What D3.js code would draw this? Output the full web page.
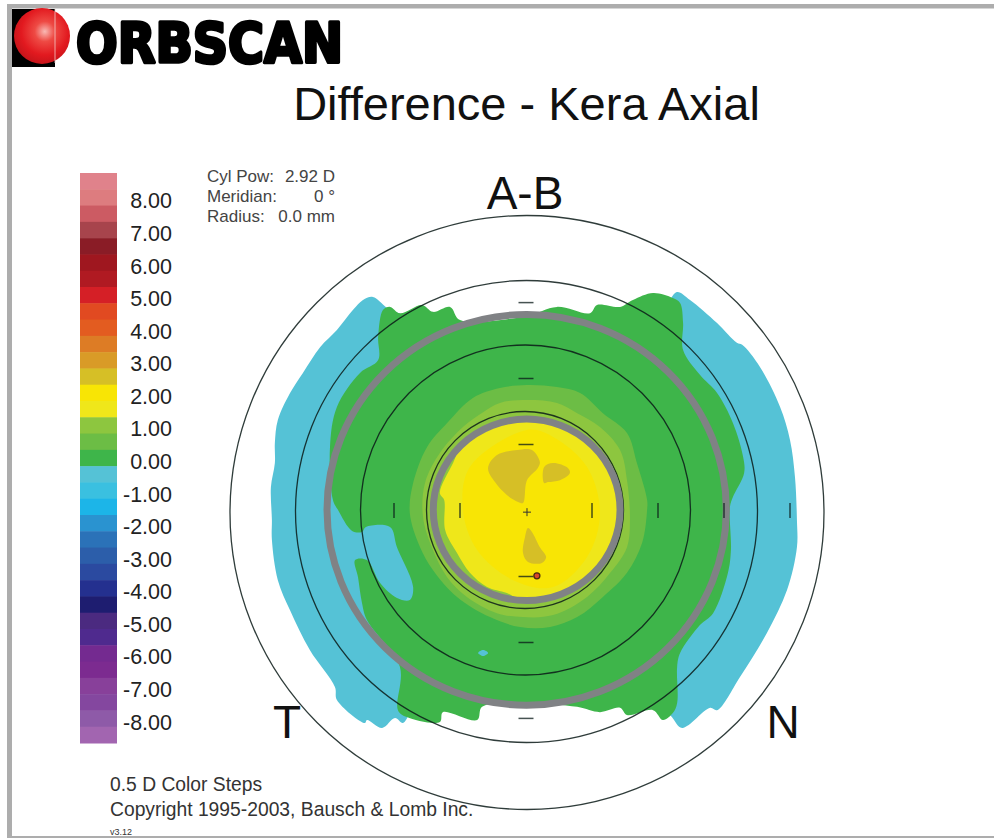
<!DOCTYPE html>
<html lang="en">
<head>
<meta charset="UTF-8">
<title>Orbscan - Difference - Kera Axial</title>
<script src="https://d3js.org/d3.v7.min.js"></script>
<style>
    html, body { margin: 0; padding: 0; background: #fff; }
    svg { display: block; }
    text { font-family: "Liberation Sans", Arial, sans-serif; }
    .info { font-size: 17px; fill: #444; }
    .dir { font-size: 46px; fill: #111; text-anchor: middle; }
    .foot { font-size: 19.3px; fill: #333; }
</style>
</head>
<body>
<svg width="994" height="838"></svg>
<script>
// legend: dioptre steps, top to bottom
const stepValues = [8.5, 8, 7.5, 7, 6.5, 6, 5.5, 5, 4.5, 4, 3.5, 3, 2.5, 2, 1.5, 1, 0.5, 0,
    -0.5, -1, -1.5, -2, -2.5, -3, -3.5, -4, -4.5, -5, -5.5, -6, -6.5, -7, -7.5, -8, -8.5];
const stepColors = ["#e0828b", "#dd7c7f", "#cc5b63", "#a7444c", "#8a1c26", "#9f171f", "#b01a22", "#d51f26", "#e14a21",
    "#e35c20", "#dd7c25", "#d99b27", "#d6bf26", "#f8e505", "#efe71a", "#8dc63f", "#6cbd45", "#3eb54a",
    "#55c2d6", "#3ac0e0", "#1cb5e8", "#2a93d0", "#2b72b8", "#2c5eaa", "#2b4aa0", "#24308f", "#1e1d70",
    "#4b2a80", "#4f2a8e", "#742a90", "#7c2b90", "#88409a", "#84479f", "#8e5aa8", "#a265b0"];
const legendTicks = [8, 7, 6, 5, 4, 3, 2, 1, 0, -1, -2, -3, -4, -5, -6, -7, -8];

// map contours, [x mm, y mm] from the map centre, y up
const blueLeft = [[-4.21, 6.14], [-4.64, 6.47], [-4.94, 6.38], [-5.24, 6.08], [-5.73, 5.47], [-6.24, 4.95], [-6.76, 4.17],
    [-7.15, 3.56], [-7.52, 2.74], [-7.61, 2.05], [-7.61, 1.44], [-7.73, 0.71], [-7.7, -0.29], [-7.7, -0.89], [-7.52, -2.11],
    [-7.15, -3.02], [-6.55, -4.23], [-5.79, -5.35], [-5.73, -5.74], [-4.88, -6.44], [-4.82, -6.35], [-4.36, -6.59],
    [-3.97, -6.29], [-3.73, -6.44], [-3.52, -6.14], [-3.2, -5.5], [-3.2, 5.5]];
const blueRight = [[4.58, 6.62], [4.97, 6.38], [5.79, 5.68], [6.39, 5.08], [6.55, 5.02], [7.09, 4.35], [7.7, 3.14], [8, 2.14],
    [8.15, 1.02], [8.21, -0.29], [8.21, -1.11], [7.91, -2.41], [7.3, -3.71], [6.48, -5.05], [5.79, -6.05], [5.58, -5.98],
    [4.73, -6.59], [4.42, -6.26], [3.9, -5.5], [3.9, 5.5], [4.36, 6.38]];
const blueDot = [[-1.45, -4.32], [-1.3, -4.23], [-1.15, -4.32], [-1.3, -4.41]];
const greenMain = [[-4.33, 6.08], [-4.12, 6.17], [-3.82, 5.98], [-3.15, 6.23], [-2.82, 6.02], [-2.3, 6.17], [-2, 5.77], [0, 5.89],
    [0.94, 6.17], [1.94, 5.98], [2.15, 6.23], [2.85, 6.17], [3.24, 6.38], [3.85, 6.59], [4.45, 6.44], [4.67, 6.29], [4.76, 5.68],
    [4.76, 4.86], [5.27, 4.11], [5.79, 3.56], [6.27, 2.65], [6.58, 1.62], [6.61, 1.14], [6.27, 0.41], [6.18, 0.11], [6.21, -1.2],
    [6.12, -1.89], [5.67, -3.11], [5.27, -3.47], [4.67, -4.32], [4.58, -4.74], [4.58, -5.83], [4.45, -6.14], [4.15, -6.35],
    [3.85, -6.05], [3.06, -6.2], [2.85, -5.98], [2.24, -6.11], [1.55, -5.95], [0, -5.83], [-1.33, -5.95], [-1.48, -6.35],
    [-2.52, -6.11], [-2.61, -6.41], [-3.61, -6.26], [-3.88, -6.05], [-3.82, -4.74], [-4.82, -3.32], [-4.97, -2.8], [-5.09, -2.02],
    [-5.18, -1.5], [-4.82, -1.5], [-4.42, -2.2], [-3.91, -2.65], [-3.52, -2.71], [-3.42, -2.32], [-3.91, -1.11], [-4.12, -0.5],
    [-4.85, -0.5], [-4.97, -0.65], [-5.27, -0.62], [-5.7, 0.02], [-5.85, 0.32], [-5.94, 1.92], [-5.73, 3.14], [-5.03, 4.17],
    [-4.48, 4.56], [-4.48, 5.26]];
const bandHalf = [[-3.42, 0.83], [-3, 1.92], [-2.39, 2.65], [-1.61, 3.41], [-0.79, 3.71], [0.03, 3.8], [0.94, 3.74], [1.64, 3.56],
    [2.33, 2.95], [3.06, 2.35], [3.36, 1.44], [3.67, 0.32], [3.67, 0.02], [3.52, -0.98], [3.06, -1.89], [2.33, -2.62], [1.55, -3.23],
    [0.73, -3.53], [-0.18, -3.53], [-1.09, -3.23], [-2.09, -2.62], [-2.82, -1.8], [-3.21, -1.11], [-3.52, -0.08]];
const bandOne = [[-3.06, 0.83], [-2.61, 1.74], [-1.91, 2.53], [-1.3, 2.98], [-0.79, 3.26], [0.03, 3.35], [0.94, 3.26], [1.55, 2.95],
    [2.24, 2.53], [2.85, 1.83], [3.06, 0.92], [3.15, -0.29], [3.06, -1.11], [2.55, -1.89], [1.85, -2.62], [0.82, -3.17], [-0.09, -3.23],
    [-0.88, -3.11], [-1.79, -2.62], [-2.39, -2.02], [-2.82, -1.2], [-3.12, -0.2]];
const yellowRim = [[-2.61, 0.53], [-2.21, 1.44], [-1.85, 2.14], [0, 2.8], [1.94, 2.02], [2.85, 0.02], [1.94, -1.95], [0, -2.74],
    [-0.58, -2.5], [-1.18, -2.32], [-1.7, -1.89], [-2.09, -1.29], [-2.45, -0.59], [-2.48, 0.32]];
const yellowCore = [[0.03, 2.44], [-1.7, 1.32], [-1.91, 0.02], [-1.48, -1.2], [-0.39, -2.11], [0.82, -2.32], [1.85, -1.41], [2.24, -0.08],
    [1.85, 1.32], [0.82, 2.23]];
const tanUpper = [[-1.15, 1.29], [-0.88, 1.68], [-0.27, 1.83], [0.18, 1.83], [0.42, 1.47], [0.36, 1.29], [0.03, 0.92], [-0.09, 0.23],
    [-0.24, 0.26], [-0.58, 0.47], [-0.94, 0.86]];
const tanRight = [[0.55, 1.32], [0.82, 1.44], [1.27, 1.29], [1.33, 1.14], [1.03, 0.92], [0.67, 0.86], [0.55, 0.83]];
const tanLower = [[0.06, -0.53], [0.18, -0.65], [0.42, -1.11], [0.61, -1.41], [0.48, -1.59], [0.06, -1.56], [-0.09, -1.29], [-0.03, -0.8]];

// [contour, dioptre step]; painted in this order
const mapRegions = [[blueLeft, -0.5], [blueRight, -0.5], [greenMain, 0], [blueDot, -0.5], [bandHalf, 0.5], [bandOne, 1],
    [yellowRim, 1.5], [yellowCore, 2], [tanUpper, 2.5], [tanRight, 2.5], [tanLower, 2.5]];

// [radius mm, centre x mm, centre y mm], the scan is not quite concentric
const gridCircles = [[2.985, -0.03, 0.015], [5, -0.015, 0.015], [7, 0.015, -0.03], [9, 0.03, -0.06]];
const xTickMm = [-4, -2, 2, 4, 6, 8];
const yTickMm = [-6.3, -4, -2, 2, 4, 6.3];
const overlayRings = [[6.05, 5.92], [2.83, 2.75]]; // hand drawn grey ovals, rx / ry in mm
const apexMm = [0.33, -1.98];
const centreMm = [0.03, -0.05];

const infoRows = [["Cyl Pow:", "2.92 D"], ["Meridian:", "0 °"], ["Radius:", "0.0 mm"]];
const footerLines = ["0.5 D Color Steps", "Copyright 1995-2003, Bausch & Lomb Inc."];

const svg = d3.select("svg");

// page frame
const frameColor = "#adadad";
svg.append("rect").attr("x", 7).attr("y", 4).attr("width", 987).attr("height", 4.5).attr("fill", frameColor);
svg.append("rect").attr("x", 7).attr("y", 4).attr("width", 5).attr("height", 834).attr("fill", frameColor);
svg.append("rect").attr("x", 7).attr("y", 836).attr("width", 987).attr("height", 2).attr("fill", frameColor);

// logo
const defs = svg.append("defs");
const ball = defs.append("radialGradient").attr("id", "ball")
    .attr("cx", "0.55").attr("cy", "0.42").attr("r", "0.6");
ball.append("stop").attr("offset", "0").attr("stop-color", "#f9b9b4");
ball.append("stop").attr("offset", "0.3").attr("stop-color", "#ee4a44");
ball.append("stop").attr("offset", "0.7").attr("stop-color", "#e2191f");
ball.append("stop").attr("offset", "1").attr("stop-color", "#c4141a");
svg.append("rect").attr("x", 12).attr("y", 9).attr("width", 43).attr("height", 58).attr("fill", "#000");
svg.append("circle").attr("cx", 42).attr("cy", 36).attr("r", 28).attr("fill", "url(#ball)");
svg.append("line").attr("x1", 55).attr("x2", 55).attr("y1", 9).attr("y2", 63)
    .attr("stroke", "#f3c9c5").attr("stroke-width", 0.8);
svg.append("text").attr("x", 76).attr("y", 62)
    .style("font-family", "'DejaVu Sans'").style("font-weight", "bold").style("font-size", "55px")
    .attr("textLength", 267).attr("lengthAdjust", "spacingAndGlyphs")
    .attr("stroke", "#000").attr("stroke-width", 3.5).attr("stroke-linejoin", "round")
    .text("ORBSCAN");

// title
svg.append("text").attr("x", 526.5).attr("y", 120).attr("text-anchor", "middle")
    .style("font-size", "47px").attr("fill", "#111").text("Difference - Kera Axial");

// colour legend
const legendY = d3.scaleBand().domain(stepValues).range([173, 743]);
const stepColor = d3.scaleOrdinal().domain(stepValues).range(stepColors);

svg.append("g").selectAll("rect")
    .data(stepValues)
    .join("rect")
    .attr("x", 80)
    .attr("y", d => legendY(d))
    .attr("width", 37)
    .attr("height", legendY.bandwidth() + 0.5)
    .attr("fill", d => stepColor(d));

svg.append("g").selectAll("text")
    .data(legendTicks)
    .join("text")
    .attr("x", 172)
    .attr("y", d => legendY(d) + legendY.bandwidth() / 2 + 11)
    .attr("text-anchor", "end")
    .style("font-size", "21.5px")
    .attr("fill", "#222")
    .text(d => d.toFixed(2));

// info box
const info = svg.append("g").selectAll("g").data(infoRows).join("g")
    .attr("transform", (d, i) => `translate(0,${182 + i * 20})`);
info.append("text").attr("class", "info").attr("x", 207).text(d => d[0]);
info.append("text").attr("class", "info").attr("x", 335).attr("text-anchor", "end").text(d => d[1]);

// map: 33 px per mm around the centre
const x = d3.scaleLinear().domain([-9, 9]).range([526 - 297, 526 + 297]);
const y = d3.scaleLinear().domain([9, -9]).range([510.5 - 297, 510.5 + 297]);
const pxPerMm = x(1) - x(0);

const contour = d3.line()
    .x(d => x(d[0]))
    .y(d => y(d[1]))
    .curve(d3.curveCatmullRomClosed.alpha(0.5));

svg.append("g").selectAll("path")
    .data(mapRegions)
    .join("path")
    .attr("d", d => contour(d[0]))
    .attr("fill", d => stepColor(d[1]));

// mm circles
svg.append("g").selectAll("circle")
    .data(gridCircles)
    .join("circle")
    .attr("cx", d => x(d[1]))
    .attr("cy", d => y(d[2]))
    .attr("r", d => d[0] * pxPerMm)
    .attr("fill", "none")
    .attr("stroke", "#0a1a18")
    .attr("stroke-opacity", 0.85)
    .attr("stroke-width", 1.3);

// grey ovals on top of the map, slightly off the grid centre
svg.append("g").selectAll("ellipse")
    .data(overlayRings)
    .join("ellipse")
    .attr("cx", x(0.02))
    .attr("cy", y(0.02))
    .attr("rx", d => d[0] * pxPerMm)
    .attr("ry", d => d[1] * pxPerMm)
    .attr("fill", "none")
    .attr("stroke", "#808285")
    .attr("stroke-width", 7);

// ticks on the axes
svg.append("g").selectAll("line")
    .data(xTickMm)
    .join("line")
    .attr("x1", d => x(d)).attr("x2", d => x(d))
    .attr("y1", y(0) - 7.5).attr("y2", y(0) + 7.5)
    .attr("stroke", "#0a1a18").attr("stroke-opacity", 0.75).attr("stroke-width", 1.5);
svg.append("g").selectAll("line")
    .data(yTickMm)
    .join("line")
    .attr("x1", x(0) - 7.5).attr("x2", x(0) + 7.5)
    .attr("y1", d => y(d)).attr("y2", d => y(d))
    .attr("stroke", "#0a1a18").attr("stroke-opacity", 0.75).attr("stroke-width", 1.5);

// centre cross and thinnest point marker
svg.append("line").attr("x1", x(centreMm[0]) - 4).attr("x2", x(centreMm[0]) + 4)
    .attr("y1", y(centreMm[1])).attr("y2", y(centreMm[1])).attr("stroke", "#333").attr("stroke-width", 1);
svg.append("line").attr("x1", x(centreMm[0])).attr("x2", x(centreMm[0]))
    .attr("y1", y(centreMm[1]) - 4).attr("y2", y(centreMm[1]) + 4).attr("stroke", "#333").attr("stroke-width", 1);
svg.append("circle").attr("cx", x(apexMm[0])).attr("cy", y(apexMm[1])).attr("r", 3)
    .attr("fill", "#d9472b").attr("stroke", "#4a2a10").attr("stroke-width", 1.3);

// direction labels
svg.append("text").attr("class", "dir").attr("x", 525).attr("y", 209).text("A-B");
svg.append("text").attr("class", "dir").attr("x", 287).attr("y", 738).text("T");
svg.append("text").attr("class", "dir").attr("x", 783).attr("y", 738).text("N");

// footer
svg.append("g").selectAll("text")
    .data(footerLines)
    .join("text")
    .attr("class", "foot")
    .attr("x", 110)
    .attr("y", (d, i) => 791 + i * 24.5)
    .text(d => d);
svg.append("text").attr("x", 110).attr("y", 835).style("font-size", "9px").attr("fill", "#333").text("v3.12");
</script>
</body>
</html>
